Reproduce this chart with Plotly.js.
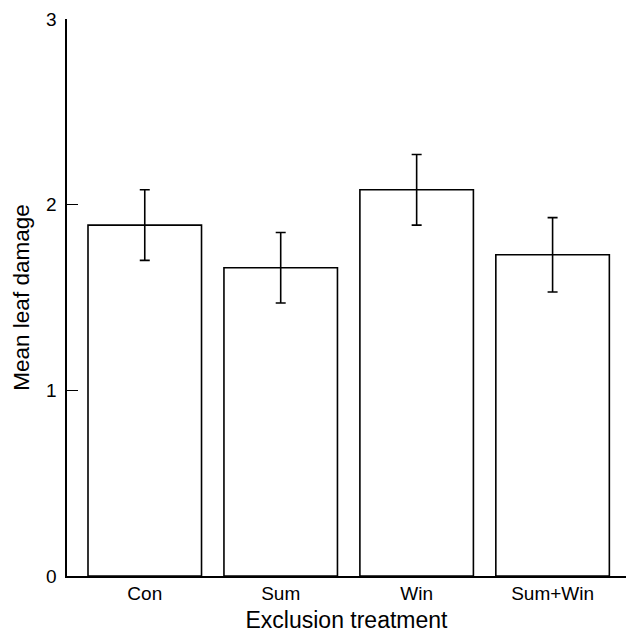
<!DOCTYPE html>
<html>
<head>
<meta charset="utf-8">
<script src="https://cdn.plot.ly/plotly-3.0.1.min.js"></script>
<style>html,body{margin:0;padding:0;background:#fff;}#chart{width:626px;height:634px;}</style>
</head>
<body>
<div id="chart"></div>
<script>
const categories = ["Con", "Sum", "Win", "Sum+Win"];
const meanDamage = [1.89, 1.66, 2.08, 1.73];
const errorSE = [0.19, 0.19, 0.19, 0.20];
const yTickVals = [0, 1, 2, 3];
const yTickText = ["0", "1", "2", "3"];

const trace = {
  type: "bar",
  x: categories,
  y: meanDamage,
  marker: {color: "#ffffff", line: {color: "#000000", width: 1.6}},
  error_y: {type: "data", array: errorSE, visible: true, color: "#000000", thickness: 1.6, width: 5},
  hoverinfo: "skip"
};

const layout = {
  width: 626, height: 634,
  margin: {l: 67, r: 0, t: 19, b: 58, pad: 0},
  paper_bgcolor: "#ffffff", plot_bgcolor: "#ffffff",
  font: {family: "Liberation Sans, Arial, sans-serif", color: "#000000"},
  showlegend: false,
  bargap: 0.165,
  xaxis: {
    type: "category",
    range: [-0.572, 3.54],
    showline: true, linecolor: "#000000", linewidth: 1.6,
    ticks: "", showgrid: false, zeroline: false,
    tickfont: {size: 19, color: "#000000"},
    title: {text: "Exclusion treatment", font: {size: 23, color: "#000000"}, standoff: 8}
  },
  yaxis: {
    range: [0, 3],
    tickvals: yTickVals, ticktext: yTickText,
    showline: true, linecolor: "#000000", linewidth: 1.6,
    ticks: "inside", ticklen: 11, tickwidth: 1.6, tickcolor: "#000000",
    showgrid: false, zeroline: false,
    tickfont: {size: 19, color: "#000000"},
    ticklabelstandoff: 5,
    title: {text: "Mean leaf damage", font: {size: 22.5, color: "#000000"}, standoff: 10}
  }
};

Plotly.newPlot("chart", [trace], layout, {staticPlot: true, displayModeBar: false});
</script>
</body>
</html>
